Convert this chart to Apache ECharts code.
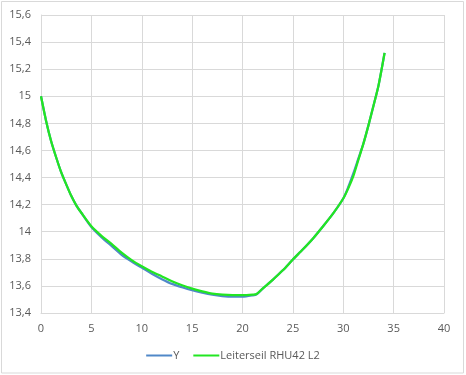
<!DOCTYPE html>
<html><head><meta charset="utf-8">
<script src="https://cdn.jsdelivr.net/npm/echarts@6/dist/echarts.min.js"></script>
<style>html,body{margin:0;padding:0;background:#fff}#c{width:466px;height:375px}</style>
</head><body><div id="c"></div>
<script>
const xValues = [0,0.5,1,1.5,2,2.5,3,3.5,4,5,6,7,8,9,10,11,12,13,14,15,16,17,18,19,20,21,21.4,22,23,24,25,26,27,28,29,30,30.5,31,31.5,32,32.5,33,33.5,34.1];
const yBlue = [15.00,14.82,14.67,14.55,14.44,14.35,14.265,14.195,14.14,14.035,13.96,13.895,13.83,13.78,13.735,13.69,13.65,13.615,13.59,13.568,13.55,13.535,13.525,13.52,13.52,13.53,13.538,13.58,13.645,13.715,13.795,13.87,13.95,14.04,14.135,14.245,14.33,14.43,14.54,14.65,14.785,14.93,15.08,15.32];
const yGreen = [15.00,14.82,14.67,14.55,14.44,14.35,14.265,14.195,14.14,14.04,13.97,13.91,13.845,13.79,13.745,13.705,13.67,13.635,13.605,13.58,13.56,13.543,13.535,13.532,13.532,13.536,13.54,13.58,13.645,13.715,13.795,13.87,13.95,14.04,14.135,14.245,14.32,14.41,14.53,14.65,14.785,14.93,15.08,15.32];
const seriesNames = ['Y','Leiterseil RHU42 L2'];

const font = 'Open Sans';
const labelColor = '#595959';
const gridColor = '#d9d9d9';
const pair = (ys) => xValues.map((x, i) => [x, ys[i]]);
const fmt = v => String(+(+v).toFixed(1)).replace('.', ',');

const chart = echarts.init(document.getElementById('c'), null, {renderer: 'canvas'});
chart.setOption({
  backgroundColor: '#fff',
  animation: false,
  graphic: [{type: 'rect', shape: {x: 1.5, y: 1.5, width: 462, height: 371.5}, style: {fill: 'none', stroke: gridColor, lineWidth: 1}, silent: true}],
  grid: {left: 41, right: 22, top: 15, bottom: 62, containLabel: false, outerBoundsMode: 'none'},
  xAxis: {
    type: 'value', min: 0, max: 40, interval: 5,
    axisLine: {show: true, lineStyle: {color: gridColor}},
    axisTick: {show: false},
    splitLine: {show: true, lineStyle: {color: gridColor, width: 1}},
    axisLabel: {color: labelColor, fontFamily: font, fontSize: 11, margin: 10, formatter: fmt}
  },
  yAxis: {
    type: 'value', min: 13.4, max: 15.6, interval: 0.2,
    axisLine: {show: true, lineStyle: {color: gridColor}},
    axisTick: {show: false},
    splitLine: {show: true, lineStyle: {color: gridColor, width: 1}},
    axisLabel: {color: labelColor, fontFamily: font, fontSize: 11, margin: 10, formatter: fmt}
  },
  legend: {
    bottom: 9, left: 'center', itemGap: 14, itemWidth: 26, itemHeight: 2, icon: 'rect',
    textStyle: {color: labelColor, fontFamily: font, fontSize: 11, padding: [0,0,0,-4]},
    data: seriesNames
  },
  series: [
    {name: seriesNames[0], type: 'line', data: pair(yBlue), showSymbol: false, symbol: 'none', smooth: 0.25, lineStyle: {color: '#5088c8', width: 2.25}, itemStyle: {color: '#5088c8'}},
    {name: seriesNames[1], type: 'line', data: pair(yGreen), showSymbol: false, symbol: 'none', smooth: 0.25, lineStyle: {color: '#22e622', width: 2.25}, itemStyle: {color: '#22e622'}}
  ]
});
</script></body></html>
